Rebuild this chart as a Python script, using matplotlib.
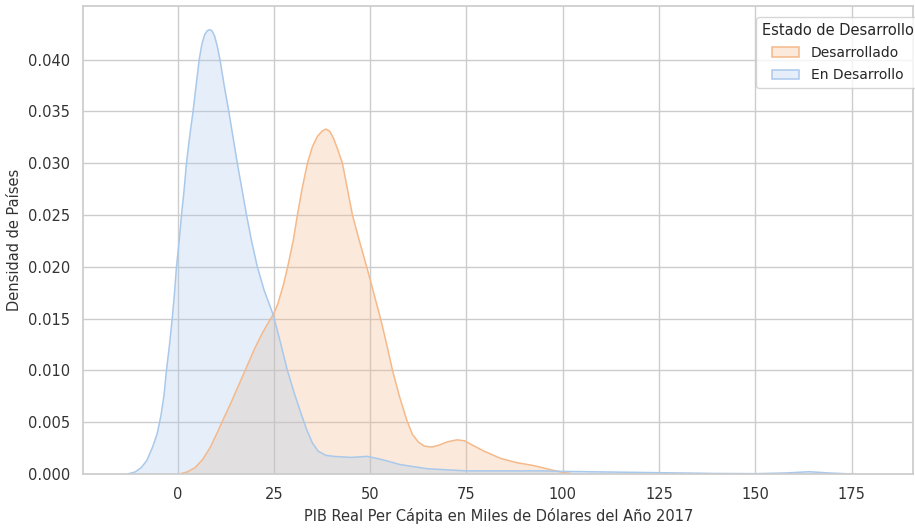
import numpy as np
import matplotlib.pyplot as plt
import seaborn as sns
from matplotlib.patches import Patch
from matplotlib.colors import to_rgb

# density curves (x in miles de dólares, y density)
x_desarrollado = [0.5, 2.5, 4.5, 6.5, 8.5, 10.3, 12, 14, 16, 18, 20, 22, 24, 25, 26,
                  27.5, 28.7, 30, 31.1, 32.3, 33.7, 35, 36.3, 37.5, 38.5, 39.5, 40.5,
                  41.6, 42.8, 44.1, 45.4, 47.2, 49.1, 50.9, 52.7, 54.3, 55.8, 57.6,
                  59.5, 61, 62.5, 64, 66, 68, 70, 72.6, 74.5, 76.5, 79.6, 83.9, 88,
                  92.6, 97, 100.4, 103]
y_desarrollado = [0.0, 0.0002, 0.0006, 0.0014, 0.0026, 0.0040, 0.0054, 0.0070, 0.0087,
                  0.0104, 0.0121, 0.0136, 0.0149, 0.0155, 0.0164, 0.0183, 0.0202,
                  0.0225, 0.0250, 0.0275, 0.0300, 0.0316, 0.0326, 0.0331, 0.0333,
                  0.0331, 0.0324, 0.0313, 0.0300, 0.0275, 0.0250, 0.0225, 0.0200,
                  0.0175, 0.0150, 0.0125, 0.0100, 0.0075, 0.0052, 0.0038, 0.0031,
                  0.0027, 0.0026, 0.0028, 0.0031, 0.0033, 0.0032, 0.0028, 0.0022,
                  0.0015, 0.0011, 0.0008, 0.0004, 0.00013, 0.0]

x_en_desarrollo = [-13, -11, -9.5, -8, -6.5, -5.3, -4.3, -3.5, -2.9, -2.1, -1.4, -0.8,
                   -0.3, 0.4, 1.0, 1.7, 2.3, 3.1, 4.0, 4.8, 5.6, 6.3, 7.0, 7.7, 8.3,
                   8.9, 9.6, 10.3, 11.0, 12.1, 13.3, 14.4, 15.5, 16.7, 17.9, 19.2,
                   20.7, 22.5, 24.8, 26.7, 28.5, 30.3, 32.0, 33.5, 35.0, 36.5, 38.5,
                   40.6, 45, 49.3, 53, 57.9, 65, 75, 85, 95, 100, 110, 120, 130, 140,
                   150, 158, 164, 169, 175]
y_en_desarrollo = [0.0, 0.0002, 0.0006, 0.0013, 0.0026, 0.0039, 0.0057, 0.0077, 0.0100,
                   0.0125, 0.0150, 0.0175, 0.0200, 0.0225, 0.0250, 0.0275, 0.0300,
                   0.0325, 0.0350, 0.0375, 0.0400, 0.0415, 0.0424, 0.0428, 0.0429,
                   0.0428, 0.0423, 0.0413, 0.0400, 0.0375, 0.0350, 0.0325, 0.0300,
                   0.0275, 0.0250, 0.0225, 0.0200, 0.0177, 0.0154, 0.0127, 0.0100,
                   0.0078, 0.0059, 0.0043, 0.0030, 0.0022, 0.0018, 0.0017, 0.0016,
                   0.0017, 0.0014, 0.0009, 0.0005, 0.0003, 0.0003, 0.0003, 0.00025,
                   0.0002, 0.00015, 0.0001, 0.00005, 0.00003, 0.0001, 0.00022, 0.0001,
                   0.0]

groups = ["Desarrollado", "En Desarrollo"]
colors = ["#f5b98a", "#a9c9ec"]

sns.set_theme(style="whitegrid")

fig = plt.figure(figsize=(9.15, 5.29), dpi=100)
ax = fig.add_axes([0.091, 0.104, 0.907, 0.885])

series = [(x_desarrollado, y_desarrollado), (x_en_desarrollo, y_en_desarrollo)]
for (xs, ys), c in zip(series, colors):
    ax.fill_between(xs, ys, 0, facecolor=c, alpha=0.3, edgecolor="none")
    ax.plot(xs, ys, color=c, linewidth=1.1)

ax.set_xlim(-24.5, 191)
ax.set_ylim(0, 0.0452)
ax.set_xticks([0, 25, 50, 75, 100, 125, 150, 175])
ax.set_yticks(np.arange(0, 0.0401, 0.005))
ax.yaxis.set_major_formatter(plt.FormatStrFormatter("%.3f"))
ax.tick_params(labelsize=10.5, colors="#333333")

ax.set_xlabel("PIB Real Per Cápita en Miles de Dólares del Año 2017", fontsize=10.5, color="#333333")
ax.set_ylabel("Densidad de Países", fontsize=10.5, color="#333333")

handles = [Patch(facecolor=(*to_rgb(c), 0.3), edgecolor=c, linewidth=1.1) for c in colors]
leg = ax.legend(handles, groups, title="Estado de Desarrollo", loc="upper right",
                bbox_to_anchor=(1.012, 0.985), fontsize=10, title_fontsize=10.5,
                frameon=True, borderaxespad=0.3, labelspacing=0.6)

fig.savefig("out.png", dpi=100)
